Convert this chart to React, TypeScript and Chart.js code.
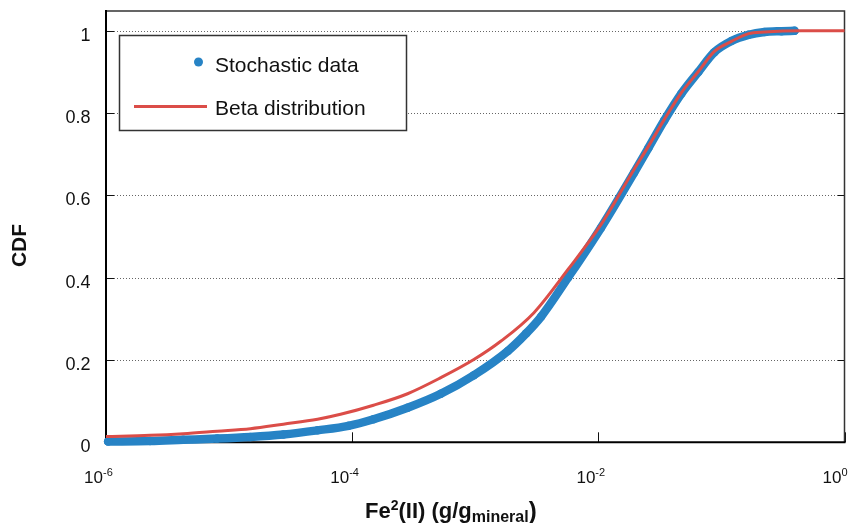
import React, { useEffect, useRef } from "react";
import { Chart, registerables } from "chart.js";

Chart.register(...registerables);

// Beta distribution CDF
const betaX = [1e-6, 2.28e-6, 4.24e-6, 8.0e-6, 1.49e-5, 2.76e-5, 5.23e-5, 8.05e-5, 1.49e-4, 2.82e-4, 5.25e-4, 9.74e-4, 1.62e-3, 3.0e-3, 5.67e-3, 1.05e-2, 1.95e-2, 2.55e-2, 3.43e-2, 4.72e-2, 6.5e-2, 8.77e-2, 0.1206, 0.166, 0.224, 0.45, 1];
const betaCDF = [0.014, 0.017, 0.021, 0.027, 0.033, 0.044, 0.056, 0.068, 0.09, 0.118, 0.157, 0.201, 0.246, 0.315, 0.42, 0.529, 0.663, 0.719, 0.784, 0.849, 0.901, 0.95, 0.974, 0.993, 0.997, 1.0, 1.0];

// Stochastic data CDF
const stochX = [1.04e-6, 2.28e-6, 4.24e-6, 8.0e-6, 1.49e-5, 2.76e-5, 5.23e-5, 9.35e-5, 1.49e-4, 2.82e-4, 5.25e-4, 9.74e-4, 1.84e-3, 2.6e-3, 3.42e-3, 5.67e-3, 1.05e-2, 1.95e-2, 2.55e-2, 3.43e-2, 4.72e-2, 6.5e-2, 8.77e-2, 0.1206, 0.166, 0.224, 0.308, 0.393];
const stochCDF = [0.002, 0.003, 0.006, 0.009, 0.013, 0.019, 0.029, 0.04, 0.056, 0.084, 0.118, 0.163, 0.222, 0.265, 0.305, 0.4, 0.521, 0.655, 0.715, 0.782, 0.847, 0.9, 0.948, 0.975, 0.99, 0.997, 0.999, 1.0];

const xTickValues = [1e-6, 1e-4, 1e-2, 1];
const xTickExponents = ["-6", "-4", "-2", "0"];
const yTickValues = [0, 0.2, 0.4, 0.6, 0.8, 1];
const yTickLabels = ["0", "0.2", "0.4", "0.6", "0.8", "1"];
const legendLabels = ["Stochastic data", "Beta distribution"];

const BLUE = "rgb(39,131,197)";
const RED = "rgb(219,77,72)";
const FONT = "'Liberation Sans', Arial, sans-serif";

const decorPlugin = {
  id: "decor",
  beforeDatasetsDraw(chart: any) {
    const { ctx, chartArea: a, scales } = chart;
    const x = scales.x;
    const y = scales.y;
    ctx.save();
    // dotted grid
    ctx.strokeStyle = "#666";
    ctx.lineWidth = 1;
    ctx.setLineDash([1, 2]);
    yTickValues.forEach((v) => {
      if (v === 0) return;
      const py = Math.round(y.getPixelForValue(v)) + 0.5;
      ctx.beginPath();
      ctx.moveTo(a.left + 8, py);
      ctx.lineTo(a.right - 7, py);
      ctx.stroke();
    });
    ctx.setLineDash([]);
    // tick marks
    ctx.strokeStyle = "#111";
    ctx.lineWidth = 1;
    yTickValues.forEach((v) => {
      const py = Math.round(y.getPixelForValue(v)) + 0.5;
      ctx.beginPath();
      ctx.moveTo(a.left, py);
      ctx.lineTo(a.left + 8, py);
      ctx.moveTo(a.right - 7, py);
      ctx.lineTo(a.right, py);
      ctx.stroke();
    });
    xTickValues.forEach((v) => {
      const px = Math.round(x.getPixelForValue(v)) + 0.5;
      ctx.beginPath();
      ctx.moveTo(px, a.bottom);
      ctx.lineTo(px, a.bottom - 10);
      ctx.stroke();
    });
    // frame
    ctx.strokeStyle = "#333";
    ctx.lineWidth = 1.5;
    ctx.beginPath();
    ctx.moveTo(a.left, a.top);
    ctx.lineTo(a.right, a.top);
    ctx.lineTo(a.right, a.bottom);
    ctx.stroke();
    ctx.strokeStyle = "#000";
    ctx.lineWidth = 2;
    ctx.beginPath();
    ctx.moveTo(a.left, a.top - 1);
    ctx.lineTo(a.left, a.bottom);
    ctx.lineTo(a.right + 1, a.bottom);
    ctx.stroke();

    // y tick labels
    ctx.fillStyle = "#111";
    ctx.font = `18px ${FONT}`;
    ctx.textAlign = "right";
    ctx.textBaseline = "middle";
    yTickValues.forEach((v, i) => {
      const py = y.getPixelForValue(v);
      ctx.fillText(yTickLabels[i], 90.5, py + 5);
    });
    // x tick labels 10^n
    xTickValues.forEach((v, i) => {
      const px = x.getPixelForValue(v);
      ctx.font = `17px ${FONT}`;
      ctx.textAlign = "right";
      ctx.textBaseline = "alphabetic";
      ctx.fillText("10", px - 3, 483);
      ctx.font = `11px ${FONT}`;
      ctx.textAlign = "left";
      ctx.fillText(xTickExponents[i], px - 3, 476);
    });

    // y title
    ctx.save();
    ctx.translate(20, 245.5);
    ctx.rotate(-Math.PI / 2);
    ctx.font = `bold 21px ${FONT}`;
    ctx.textAlign = "center";
    ctx.textBaseline = "middle";
    ctx.fillText("CDF", 0, 0);
    ctx.restore();

    // x title: Fe²(II) (g/g_mineral)
    ctx.textAlign = "left";
    ctx.textBaseline = "alphabetic";
    let cx = 365;
    const base = 518;
    const seg = (t: string, size: number, dy: number) => {
      ctx.font = `bold ${size}px ${FONT}`;
      ctx.fillText(t, cx, base + dy);
      cx += ctx.measureText(t).width;
    };
    seg("Fe", 22, 0);
    seg("2", 14, -8);
    seg("(II) (g/g", 22, 0);
    seg("mineral", 16, 4);
    seg(")", 24, 1);
    ctx.restore();
  },
  afterDatasetsDraw(chart: any) {
    const { ctx } = chart;
    ctx.save();
    // legend box
    ctx.fillStyle = "#fff";
    ctx.fillRect(119.5, 35.5, 287, 95);
    ctx.strokeStyle = "#333";
    ctx.lineWidth = 1.5;
    ctx.strokeRect(119.5, 35.5, 287, 95);
    // blue marker
    ctx.fillStyle = BLUE;
    ctx.beginPath();
    ctx.arc(198.5, 62, 4.5, 0, Math.PI * 2);
    ctx.fill();
    // red line
    ctx.strokeStyle = RED;
    ctx.lineWidth = 3;
    ctx.beginPath();
    ctx.moveTo(134, 106.5);
    ctx.lineTo(207, 106.5);
    ctx.stroke();
    ctx.fillStyle = "#111";
    ctx.font = `21px ${FONT}`;
    ctx.textAlign = "left";
    ctx.textBaseline = "middle";
    ctx.fillText(legendLabels[0], 215, 66);
    ctx.fillText(legendLabels[1], 215, 109);
    ctx.restore();
  },
};

export default function App() {
  const ref = useRef<HTMLCanvasElement | null>(null);
  useEffect(() => {
    if (!ref.current) return;
    const chart = new Chart(ref.current, {
      type: "line",
      data: {
        datasets: [
          {
            label: legendLabels[1],
            data: betaX.map((v, i) => ({ x: v, y: betaCDF[i] })),
            borderColor: RED,
            backgroundColor: RED,
            borderWidth: 3,
            pointRadius: 0,
            cubicInterpolationMode: "monotone",
            fill: false,
            clip: 10,
          },
          {
            label: legendLabels[0],
            data: stochX.map((v, i) => ({ x: v, y: stochCDF[i] })),
            borderColor: BLUE,
            backgroundColor: BLUE,
            borderWidth: 8.5,
            borderCapStyle: "round",
            borderJoinStyle: "round",
            pointRadius: 4.25,
            pointBorderWidth: 0,
            pointBackgroundColor: BLUE,
            cubicInterpolationMode: "monotone",
            fill: false,
            clip: 10,
          },
        ],
      },
      options: {
        responsive: false,
        animation: false,
        events: [],
        layout: { padding: { left: 106, right: 4.5, top: 11, bottom: 80.7 } },
        plugins: { legend: { display: false }, tooltip: { enabled: false } },
        scales: {
          x: {
            type: "logarithmic",
            min: 1e-6,
            max: 1,
            ticks: { display: false },
            grid: { display: false },
            border: { display: false },
            afterFit: (s: any) => { s.height = 0; },
          },
          y: {
            type: "linear",
            min: 0,
            max: 1.048,
            ticks: { display: false },
            grid: { display: false },
            border: { display: false },
            afterFit: (s: any) => { s.width = 0; },
          },
        },
      },
      plugins: [decorPlugin],
    } as any);
    return () => chart.destroy();
  }, []);
  return (
    <div style={{ position: "absolute", left: 0, top: 0, width: 849, height: 523, background: "#fff" }}>
      <canvas ref={ref} width={849} height={523} style={{ display: "block" }} />
    </div>
  );
}
